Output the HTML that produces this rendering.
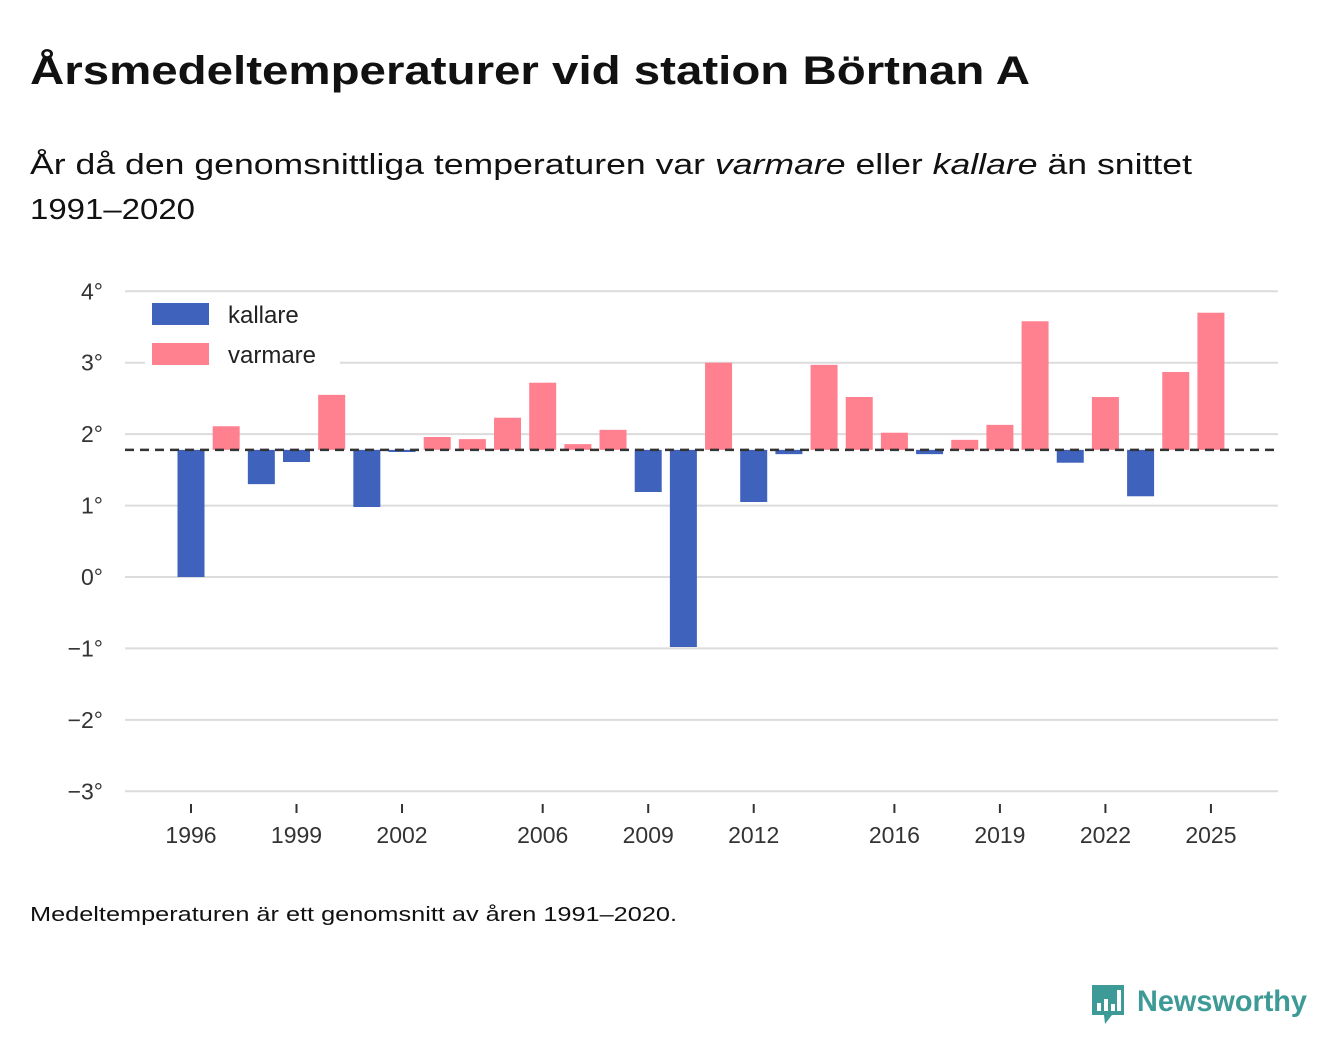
<!DOCTYPE html>
<html><head><meta charset="utf-8"><style>
body{margin:0;background:#fff;width:1340px;height:1056px;overflow:hidden;font-family:"Liberation Sans",sans-serif}
</style></head><body>
<svg id="chart" width="1340" height="1056" xmlns="http://www.w3.org/2000/svg" font-family="Liberation Sans, sans-serif">
<text x="30" y="84" font-size="40" font-weight="bold" fill="#111" textLength="1000" lengthAdjust="spacingAndGlyphs">Årsmedeltemperaturer vid station Börtnan A</text>
<text x="30" y="174" font-size="29" fill="#111" textLength="1162" lengthAdjust="spacingAndGlyphs">År då den genomsnittliga temperaturen var <tspan font-style="italic">varmare</tspan> eller <tspan font-style="italic">kallare</tspan> än snittet</text>
<text x="30" y="219" font-size="29" fill="#111" textLength="165" lengthAdjust="spacingAndGlyphs">1991–2020</text>
<g id="grid"></g><g id="bars"></g><g id="xaxis"></g>
<rect x="145" y="293" width="195" height="77" fill="#fff"/>
<rect x="152" y="303" width="57" height="22" fill="#3f62bd"/>
<text x="228" y="323" font-size="24" fill="#222">kallare</text>
<rect x="152" y="343" width="57" height="22" fill="#ff808f"/>
<text x="228" y="363" font-size="24" fill="#222">varmare</text>
<text x="30" y="921" font-size="20" fill="#111" textLength="647" lengthAdjust="spacingAndGlyphs">Medeltemperaturen är ett genomsnitt av åren 1991–2020.</text>
<g>
<path d="M1092 985h32v30h-12l-7 9l-1-9h-12z" fill="#3d9a96"/>
<rect x="1097" y="1003" width="4" height="8" fill="#fff"/><rect x="1104" y="999" width="4" height="12" fill="#fff"/><rect x="1111" y="1004" width="4" height="7" fill="#fff"/><rect x="1117" y="990" width="4" height="21" fill="#fff"/>
<text x="1137" y="1011" font-size="30" font-weight="bold" fill="#3d9a96" textLength="170" lengthAdjust="spacingAndGlyphs">Newsworthy</text>
</g>
</svg>
<script>
const years=[1996,1997,1998,1999,2000,2001,2002,2003,2004,2005,2006,2007,2008,2009,2010,2011,2012,2013,2014,2015,2016,2017,2018,2019,2020,2021,2022,2023,2024,2025];
const temps=[0.0,2.11,1.30,1.61,2.55,0.98,1.75,1.96,1.93,2.23,2.72,1.86,2.06,1.19,-0.98,3.00,1.05,1.72,2.97,2.52,2.02,1.72,1.92,2.13,3.58,1.60,2.52,1.13,2.87,3.70];
const baseline=1.78;
const yTicks=[4,3,2,1,0,-1,-2,-3];
const yTickLabels=["4°","3°","2°","1°","0°","−1°","−2°","−3°"];
const xTicks=[1996,1999,2002,2006,2009,2012,2016,2019,2022,2025];
const NS="http://www.w3.org/2000/svg";
const y=v=>577-v*71.43;
const x=yr=>191+(yr-1996)*35.17;
function mk(t,a,p){const e=document.createElementNS(NS,t);for(const k in a)e.setAttribute(k,a[k]);p.appendChild(e);return e;}
const g=document.getElementById('grid'),b=document.getElementById('bars'),xa=document.getElementById('xaxis');
yTicks.forEach((v,i)=>{
 const l=mk('line',{x1:125,x2:1278,y1:y(v),y2:y(v),stroke:'#dcdcdc','stroke-width':2},g);
 
 
 const t=mk('text',{x:103,y:y(v)+8,'font-size':23,fill:'#333','text-anchor':'end'},g);
 t.textContent=yTickLabels[i];
 
 
});
years.forEach((yr,i)=>{
 const v=temps[i],top=y(Math.max(v,baseline)),bot=y(Math.min(v,baseline));
 const r=mk('rect',{x:x(yr)-13.5,y:top,width:27,height:Math.max(bot-top,1),fill:v<baseline?'#3f62bd':'#ff808f',stroke:'#fff','stroke-width':0},b);
 
 
});
const d=mk('line',{x1:125,x2:1278,y1:y(baseline),y2:y(baseline),stroke:'#333','stroke-width':2.5,'stroke-dasharray':'9,6'},b);


xTicks.forEach(yr=>{
 const l=mk('line',{x1:x(yr),x2:x(yr),y1:804,y2:813,stroke:'#333','stroke-width':2},xa);
 
 
 const t=mk('text',{x:x(yr),y:843,'font-size':23,fill:'#333','text-anchor':'middle'},xa);
 t.textContent=yr;
 
 
});
</script>
</body></html>
